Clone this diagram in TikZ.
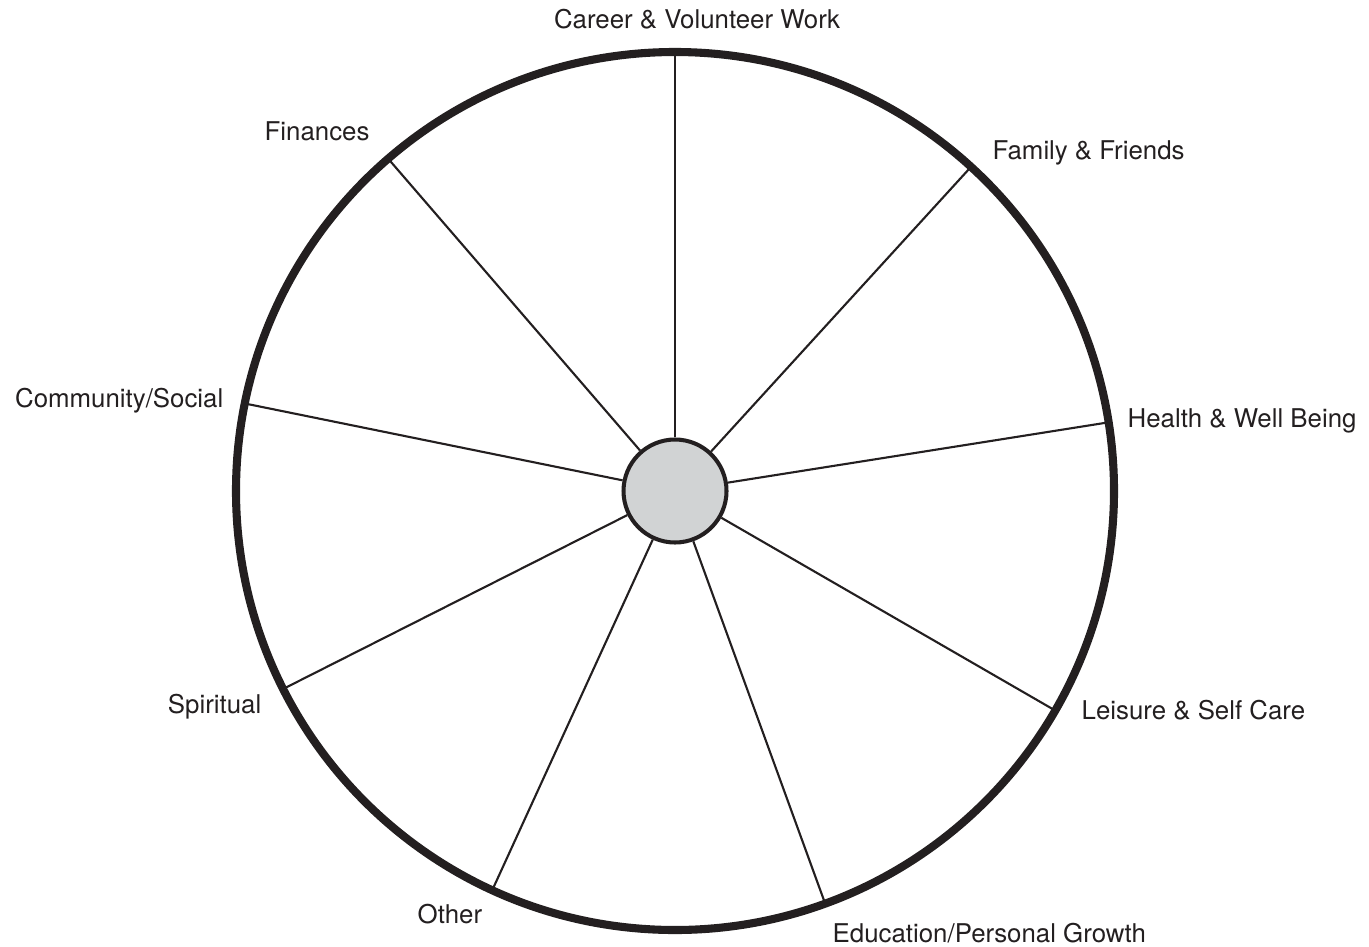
\documentclass[tikz,border=0pt]{standalone}
\usepackage{fontspec}
\setmainfont{TeX Gyre Heros}
\usepackage{tikz}
\usetikzlibrary{positioning}
\definecolor{ink}{HTML}{231F20}
\definecolor{hubgray}{HTML}{D1D3D4}

\begin{document}
\begin{tikzpicture}[font=\fontsize{7.35}{8.8}\selectfont, text=ink,
    lbl/.style={inner sep=0pt},
    spoke/.style={draw=ink, line width=0.6pt}]
  \useasboundingbox (0,0) rectangle (13.69,9.46);
  \node[circle, draw=ink, line width=1.15pt, fill=hubgray, inner sep=0pt, minimum size=1.03cm] (hub) at (6.75,4.55) {};
  % spokes out to the rim
  \foreach \a/\n in {90/career, 47.6/family, 9/health, -30/leisure, -70/education,
                     -114.6/other, -153.2/spiritual, 168.5/community, 130.8/finances}{
    \path (hub.center) ++(\a:4.39) coordinate (rim-\n);
    \draw[spoke] (hub) -- (rim-\n);
  }
  \draw[ink, line width=2.3pt] (hub.center) circle (4.39);
  \node[lbl, anchor=base] (career) at (6.97,9.17) {Career \& Volunteer Work};
  \node[lbl, anchor=base west] (family) at (9.92,7.87) {Family \& Friends};
  \node[lbl, anchor=base west] (health) at (11.27,5.19) {Health \& Well Being};
  \node[lbl, anchor=base west] (leisure) at (10.81,2.27) {Leisure \& Self Care};
  \node[lbl, anchor=base west] (education) at (8.32,0.04) {Education/Personal Growth};
  \node[lbl, anchor=base west] (other) at (4.17,0.23) {Other};
  \node[lbl, anchor=base east] (spiritual) at (2.62,2.33) {Spiritual};
  \node[lbl, anchor=base east] (community) at (2.24,5.39) {Community/Social};
  \node[lbl, anchor=base west] (finances) at (2.64,8.06) {Finances};
\end{tikzpicture}
\end{document}
